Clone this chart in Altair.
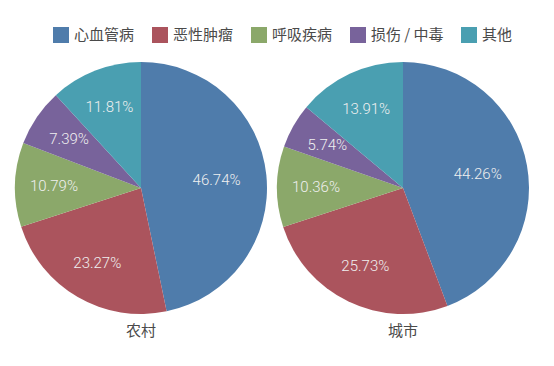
import altair as alt
import pandas as pd

categories = ["心血管病", "恶性肿瘤", "呼吸疾病", "损伤 / 中毒", "其他"]
colors = ["#4f7cab", "#ab545d", "#8ba86a", "#78639b", "#4a9fb1"]
rural_values = [46.74, 23.27, 10.79, 7.39, 11.81]
urban_values = [44.26, 25.73, 10.36, 5.74, 13.91]
regions = ["农村", "城市"]

rows = []
for region, vals in zip(regions, [rural_values, urban_values]):
    for i, (c, v) in enumerate(zip(categories, vals)):
        rows.append({"region": region, "category": c, "value": v, "idx": i})
df = pd.DataFrame(rows)

FONT = "Noto Sans CJK SC"
R = 126

def pie(region):
    base = alt.Chart(df).transform_filter(alt.datum.region == region)
    arcs = base.mark_arc(outerRadius=R, opacity=1).encode(
        theta=alt.Theta("value:Q", stack=True),
        order=alt.Order("idx:Q"),
        color=alt.Color(
            "category:N",
            scale=alt.Scale(domain=categories, range=colors),
            sort=categories,
            legend=alt.Legend(
                title=None, orient="none", direction="horizontal",
                legendX=39, legendY=-34, symbolType="square",
                symbolSize=256, symbolStrokeWidth=0, labelFontSize=15,
                labelFont=FONT, labelColor="#4a4a4a", labelOffset=5,
                columnPadding=17, symbolOpacity=1,
            ),
        ),
    )
    text = base.transform_window(
        cum="sum(value)", sort=[alt.SortField("idx")]
    ).transform_joinaggregate(
        total="sum(value)"
    ).transform_calculate(
        label="format(datum.value, '.2f') + '%'",
        lr="datum.idx == 0 ? 76 : 87",
        mid="(datum.cum - datum.value / 2) / datum.total * 2 * PI",
    ).mark_text(fontSize=15, font="Roboto", fontWeight=300, color="#f0f0f0").encode(
        text="label:N",
        theta=alt.Theta("mid:Q", scale=None),
        radius=alt.Radius("lr:Q", scale=None),
    )
    return alt.layer(arcs, text).properties(
        width=254, height=254,
        title=alt.TitleParams(
            region, orient="bottom", fontSize=15, font=FONT,
            color="#4a4a4a", fontWeight="normal", offset=9,
        ),
    )

chart = alt.hconcat(pie("农村"), pie("城市"), spacing=8).properties(
    padding={"left": 6, "top": 19, "right": 0, "bottom": 0},
).configure_view(stroke=None)

chart.save("out.html", embed_options={"renderer": "svg", "actions": False})
